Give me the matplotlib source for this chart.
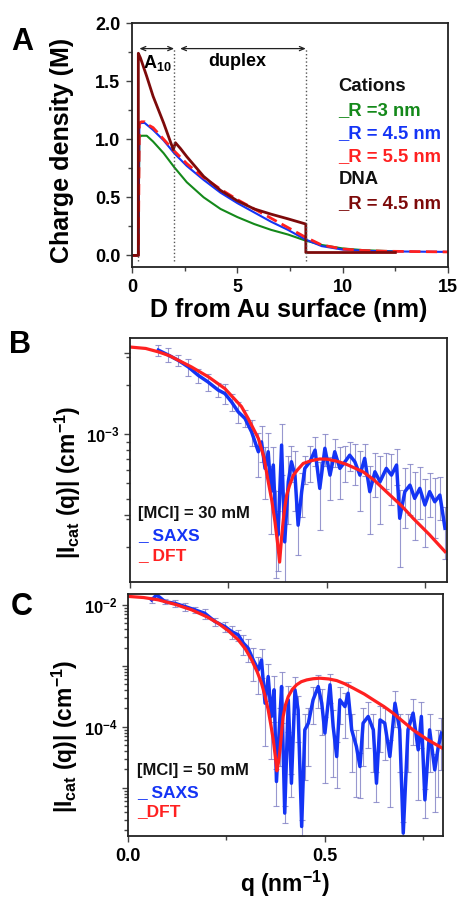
import matplotlib
matplotlib.use("Agg")
import matplotlib.pyplot as plt
import numpy as np
from matplotlib.ticker import LogLocator, NullFormatter

plt.rcParams['font.family'] = ['Liberation Sans', 'DejaVu Sans']
plt.rcParams['font.weight'] = 'bold'
plt.rcParams['mathtext.fontset'] = 'custom'
plt.rcParams['mathtext.rm'] = 'Liberation Sans:bold'
plt.rcParams['mathtext.bf'] = 'Liberation Sans:bold'
plt.rcParams['mathtext.it'] = 'Liberation Sans:bold'
plt.rcParams['mathtext.default'] = 'bf'

# ---- panel A: charge density profiles ----
d_green = [0, 0.3, 0.35, 0.45, 0.7, 1.0, 1.5, 2.0, 2.6, 3.4, 4.2, 5.0, 5.8, 6.6, 7.4, 8.2, 9.0, 10, 11, 12.5]
rho_green = [0, 0, 1.02, 1.03, 1.03, 0.98, 0.88, 0.76, 0.63, 0.50, 0.40, 0.33, 0.27, 0.22, 0.18, 0.13, 0.09, 0.06, 0.045, 0.035]

d_blue = [0, 0.3, 0.35, 0.45, 0.6, 0.8, 1.0, 1.5, 2.0, 2.6, 3.4, 4.2, 5.0, 5.8, 6.6, 7.4, 8.2, 9.0, 10, 11, 12, 15]
rho_blue = [0, 0, 1.13, 1.14, 1.14, 1.11, 1.08, 0.99, 0.88, 0.77, 0.65, 0.54, 0.45, 0.37, 0.29, 0.22, 0.14, 0.08, 0.05, 0.04, 0.035, 0.03]

d_red = [0, 0.3, 0.35, 0.45, 0.6, 0.8, 1.0, 1.5, 2.0, 2.6, 3.4, 4.2, 5.0, 5.8, 6.6, 7.4, 8.2, 9.0, 10, 11, 12, 15]
rho_red = [0, 0, 1.14, 1.15, 1.15, 1.12, 1.10, 1.00, 0.90, 0.79, 0.67, 0.57, 0.48, 0.40, 0.32, 0.24, 0.16, 0.09, 0.055, 0.042, 0.036, 0.03]

d_dna = [0, 0.3, 0.3, 0.4, 0.7, 1.0, 1.5, 1.96, 2.06, 2.3, 2.6, 3.4, 4.2, 5.0, 5.8, 6.6, 7.4, 8.25, 8.25, 12.5]
rho_dna = [0, 0, 1.74, 1.70, 1.54, 1.37, 1.14, 0.91, 0.97, 0.92, 0.85, 0.68, 0.56, 0.47, 0.40, 0.355, 0.315, 0.27, 0.025, 0.025]

region_edges = [0.3, 2.0, 8.25]

# ---- panel B: [MCl] = 30 mM ----
q_dft_b = [0.0, 0.04, 0.072, 0.1, 0.156, 0.2, 0.241, 0.283, 0.3, 0.326, 0.34, 0.351, 0.36, 0.368, 0.375, 0.38,
           0.385, 0.389, 0.393, 0.398, 0.405, 0.415, 0.425, 0.44, 0.46, 0.482, 0.5, 0.525, 0.55, 0.592, 0.62,
           0.651, 0.69, 0.719, 0.76, 0.80]
i_dft_b = [3.45e-3, 3.38e-3, 3.22e-3, 3.05e-3, 2.60e-3, 2.25e-3, 1.91e-3, 1.48e-3, 1.25e-3, 9.4e-4, 7.2e-4,
           5.1e-4, 3.9e-4, 2.9e-4, 2.1e-4, 1.62e-4, 2.3e-4, 2.9e-4, 3.5e-4, 4.2e-4, 4.8e-4, 5.58e-4, 6.0e-4,
           6.59e-4, 6.85e-4, 7.02e-4, 7.0e-4, 6.81e-4, 6.5e-4, 5.85e-4, 5.2e-4, 4.41e-4, 3.6e-4, 3.02e-4,
           2.4e-4, 1.88e-4]

q_saxs_b = [0.072, 0.097, 0.122, 0.148, 0.173, 0.198, 0.224, 0.241, 0.258, 0.275, 0.292, 0.309, 0.326, 0.334,
            0.343, 0.351, 0.358, 0.364, 0.370, 0.376, 0.385, 0.393, 0.402, 0.410, 0.419, 0.427, 0.436, 0.444,
            0.457, 0.470, 0.482, 0.495, 0.508, 0.520, 0.533, 0.546, 0.558, 0.571, 0.584, 0.596, 0.609, 0.622,
            0.635, 0.651, 0.664, 0.677, 0.685, 0.698, 0.711, 0.723, 0.736, 0.749, 0.761, 0.774, 0.787, 0.800]
i_saxs_b = [3.30e-3, 3.08e-3, 2.86e-3, 2.60e-3, 2.31e-3, 2.10e-3, 1.87e-3, 1.78e-3, 1.58e-3, 1.37e-3, 1.25e-3,
            1.03e-3, 7.78e-4, 8.95e-4, 6.14e-4, 7.78e-4, 4.41e-4, 6.44e-4, 2.88e-4, 2.38e-4, 8.55e-4, 2.16e-4,
            5.08e-4, 6.75e-4, 5.58e-4, 2.74e-4, 4.41e-4, 6.14e-4, 6.75e-4, 7.96e-4, 4.62e-4, 8.17e-4, 5.58e-4,
            7.78e-4, 6.14e-4, 6.75e-4, 7.41e-4, 6.75e-4, 5.58e-4, 7.08e-4, 4.41e-4, 5.85e-4, 5.08e-4, 6.14e-4,
            5.58e-4, 6.44e-4, 3.02e-4, 4.41e-4, 4.84e-4, 4.01e-4, 4.62e-4, 3.65e-4, 4.41e-4, 3.82e-4, 4.20e-4,
            2.62e-4]
# relative errors of the SAXS points
err_saxs_b = [0.08, 0.10, 0.08, 0.12, 0.10, 0.12, 0.10, 0.14, 0.12, 0.15, 0.12, 0.18, 0.30, 0.25, 0.35, 0.30,
              0.45, 0.30, 0.55, 0.40, 0.35, 0.60, 0.45, 0.25, 0.40, 0.35, 0.30, 0.20, 0.25, 0.20, 0.45, 0.22,
              0.30, 0.20, 0.35, 0.25, 0.20, 0.28, 0.40, 0.22, 0.45, 0.30, 0.45, 0.25, 0.35, 0.25, 0.50, 0.40,
              0.35, 0.45, 0.35, 0.45, 0.30, 0.40, 0.30, 0.35]

# ---- panel C: [MCl] = 50 mM ----
q_dft_c = [0.0, 0.04, 0.077, 0.12, 0.162, 0.2, 0.229, 0.255, 0.280, 0.298, 0.314, 0.328, 0.339, 0.348, 0.356,
           0.363, 0.369, 0.374, 0.378, 0.382, 0.386, 0.390, 0.394, 0.400, 0.407, 0.417, 0.428, 0.44, 0.454,
           0.47, 0.487, 0.51, 0.530, 0.55, 0.572, 0.60, 0.623, 0.65, 0.673, 0.70, 0.724, 0.76, 0.80]
i_dft_c = [1.38e-2, 1.32e-2, 1.21e-2, 1.02e-2, 8.28e-3, 6.4e-3, 5.0e-3, 3.75e-3, 2.67e-3, 1.9e-3, 1.25e-3,
           8.0e-4, 5.2e-4, 3.2e-4, 1.9e-4, 1.05e-4, 6.1e-5, 3.3e-5, 1.9e-5, 2.6e-5, 4.2e-5, 8.2e-5, 1.48e-4,
           2.3e-4, 3.14e-4, 4.1e-4, 4.89e-4, 5.5e-4, 5.89e-4, 6.15e-4, 6.28e-4, 6.1e-4, 5.74e-4, 5.1e-4,
           4.31e-4, 3.45e-4, 2.77e-4, 2.15e-4, 1.68e-4, 1.2e-4, 8.9e-5, 6.2e-5, 4.4e-5]

q_saxs_c = [0.060, 0.073, 0.094, 0.119, 0.145, 0.170, 0.195, 0.221, 0.246, 0.263, 0.280, 0.293, 0.305, 0.318,
            0.331, 0.339, 0.348, 0.356, 0.364, 0.371, 0.377, 0.385, 0.390, 0.398, 0.407, 0.415, 0.424, 0.432,
            0.441, 0.449, 0.458, 0.470, 0.483, 0.492, 0.500, 0.513, 0.521, 0.530, 0.538, 0.551, 0.559, 0.568,
            0.580, 0.589, 0.597, 0.610, 0.623, 0.631, 0.640, 0.652, 0.665, 0.678, 0.690, 0.699, 0.711, 0.724,
            0.737, 0.745, 0.754, 0.766, 0.779, 0.788, 0.796]
i_saxs_c = [1.21e-2, 1.46e-2, 1.13e-2, 1.06e-2, 9.40e-3, 8.28e-3, 7.29e-3, 5.33e-3, 4.42e-3, 3.66e-3, 3.22e-3,
            2.36e-3, 1.95e-3, 1.25e-3, 8.59e-4, 1.25e-3, 2.44e-4, 6.68e-4, 1.48e-4, 4.05e-4, 1.27e-5, 1.15e-4,
            4.58e-4, 3.85e-6, 2.77e-4, 1.19e-5, 4.05e-4, 1.90e-4, 2.32e-6, 8.93e-5, 1.15e-4, 2.77e-4, 4.58e-4,
            2.44e-4, 7.89e-5, 4.89e-4, 1.01e-4, 3.26e-5, 2.77e-4, 2.15e-4, 3.56e-4, 8.93e-5, 4.75e-5, 2.23e-5,
            1.15e-4, 1.48e-4, 8.93e-5, 1.19e-5, 1.30e-4, 1.15e-4, 3.26e-5, 2.44e-4, 8.93e-5, 1.81e-6, 8.93e-5,
            1.68e-4, 4.20e-5, 1.48e-4, 6.35e-6, 8.93e-5, 1.97e-5, 4.75e-5, 7.89e-5]
err_saxs_c = [0.10, 0.12, 0.10, 0.12, 0.15, 0.12, 0.18, 0.15, 0.20, 0.25, 0.22, 0.35, 0.40, 0.55, 0.60, 0.50,
              0.80, 0.60, 0.80, 0.70, 0.60, 0.80, 0.75, 0.30, 0.70, 0.40, 0.60, 0.70, 0.30, 0.85, 0.80, 0.60,
              0.55, 0.70, 0.85, 0.50, 0.85, 0.70, 0.60, 0.70, 0.55, 0.80, 0.85, 0.70, 0.80, 0.70, 0.80, 0.50,
              0.70, 0.75, 0.85, 0.60, 0.80, 0.50, 0.80, 0.70, 0.85, 0.70, 0.50, 0.80, 0.80, 0.85, 0.75]

c_green = '#14891a'
c_blue = '#1434f5'
c_red = '#ff2020'
c_brown = '#7d0a0a'
c_err = '#7f7fc4'

fig = plt.figure(figsize=(4.59, 9.0), dpi=100)
axA = fig.add_axes([0.2876, 0.7033, 0.6885, 0.2711])
axB = fig.add_axes([0.2832, 0.3533, 0.6906, 0.2711])
axC = fig.add_axes([0.2789, 0.0711, 0.6863, 0.2689])

for ax in (axA, axB, axC):
    for sp in ax.spines.values():
        sp.set_linewidth(1.3)
        sp.set_color('#222222')
    ax.tick_params(which='both', direction='out', width=1.0, color='#444444',
                   labelsize=13, pad=4, top=False, right=False)
    ax.tick_params(which='major', length=4.5)
    ax.tick_params(which='minor', length=3)
for ax in (axB, axC):
    ax.tick_params(axis='y', which='both', labelsize=12, pad=3)

# --- A ---
axA.plot(d_green, rho_green, color=c_green, lw=1.5)
axA.plot(d_blue, rho_blue, color=c_blue, lw=1.5)
axA.plot(d_red, rho_red, color=c_red, lw=2.0, dashes=(4, 2))
axA.plot(d_dna, rho_dna, color=c_brown, lw=2.0)
for xe in region_edges[1:]:
    axA.plot([xe, xe], [-0.05, 1.78], color='#555555', lw=1.0, ls=':')
axA.plot([region_edges[0]] * 2, [-0.05, 0.0], color='#555555', lw=1.0, ls=':')
arrow = dict(arrowstyle='<->,head_length=0.35,head_width=0.15', color='#222222', lw=0.9, shrinkA=0, shrinkB=0)
axA.annotate('', xy=(0.35, 1.78), xytext=(2.0, 1.78), arrowprops=arrow)
axA.annotate('', xy=(2.28, 1.78), xytext=(8.25, 1.78), arrowprops=arrow)
axA.text(1.2, 1.66, r'A$_{10}$', fontsize=13, ha='center', va='center')
axA.text(5.0, 1.67, 'duplex', fontsize=13, ha='center', va='center')

legA = [('Cations', '#111111', 1.45), ('_R =3 nm', c_green, 1.25), ('_R = 4.5 nm', c_blue, 1.05),
        ('_R = 5.5 nm', c_red, 0.85), ('DNA', '#111111', 0.65), ('_R = 4.5 nm', c_brown, 0.45)]
for txt, col, yy in legA:
    axA.text(9.8, yy, txt, color=col, fontsize=13.3, ha='left', va='center')

axA.set_xlim(0, 15)
axA.set_ylim(-0.1, 2.0)
axA.set_xticks([0, 5, 10, 15])
axA.set_xticks([2.5, 7.5, 12.5], minor=True)
axA.set_yticks([0, 0.5, 1.0, 1.5, 2.0])
axA.set_yticklabels(['0.0', '0.5', '1.0', '1.5', '2.0'])
axA.set_yticks([0.25, 0.75, 1.25, 1.75], minor=True)

# --- B ---
axB.errorbar(q_saxs_b, i_saxs_b, yerr=np.array(err_saxs_b) * np.array(i_saxs_b), fmt='none',
             ecolor=c_err, elinewidth=0.8, capsize=2.5, capthick=0.8, alpha=0.8)
axB.plot(q_saxs_b, i_saxs_b, color=c_blue, lw=2.5)
axB.plot(q_dft_b, i_dft_b, color=c_red, lw=2.3)
axB.set_yscale('log')
axB.set_xlim(0, 0.805)
axB.set_ylim(1.22e-4, 3.92e-3)
axB.set_xticks([0, 0.25, 0.5, 0.75])
axB.set_xticklabels([])
axB.set_yticks([10 ** -3.5, 1e-3, 10 ** -2.5])
axB.set_yticklabels(['', r'10$^{-3}$', ''])
axB.yaxis.set_minor_locator(LogLocator(base=10, subs=np.arange(2, 10)))
axB.yaxis.set_minor_formatter(NullFormatter())
axB.text(0.025, 0.28, '[MCl] = 30 mM', transform=axB.transAxes, fontsize=12, color='#111111', va='center')
axB.text(0.025, 0.19, '_ SAXS', transform=axB.transAxes, fontsize=12.5, color=c_blue, va='center')
axB.text(0.025, 0.11, '_ DFT', transform=axB.transAxes, fontsize=12.5, color=c_red, va='center')

# --- C ---
axC.errorbar(q_saxs_c, i_saxs_c, yerr=np.array(err_saxs_c) * np.array(i_saxs_c), fmt='none',
             ecolor=c_err, elinewidth=0.8, capsize=2.5, capthick=0.8, alpha=0.8)
axC.plot(q_saxs_c, i_saxs_c, color=c_blue, lw=2.5)
axC.plot(q_dft_c, i_dft_c, color=c_red, lw=2.3)
axC.set_yscale('log')
axC.set_xlim(0, 0.8)
axC.set_ylim(1.62e-6, 1.51e-2)
axC.set_xticks([0, 0.5])
axC.set_xticklabels(['0.0', '0.5'])
axC.set_xticks([0.25, 0.75], minor=True)
axC.set_yticks([1e-5, 1e-4, 1e-3, 1e-2])
axC.set_yticklabels(['', r'10$^{-4}$', '', r'10$^{-2}$'])
axC.yaxis.set_minor_locator(LogLocator(base=10, subs=np.arange(2, 10)))
axC.yaxis.set_minor_formatter(NullFormatter())
axC.text(0.028, 0.27, '[MCl] = 50 mM', transform=axC.transAxes, fontsize=12, color='#111111', va='center')
axC.text(0.028, 0.18, '_ SAXS', transform=axC.transAxes, fontsize=12.5, color=c_blue, va='center')
axC.text(0.028, 0.10, '_DFT', transform=axC.transAxes, fontsize=12.5, color=c_red, va='center')

# axis labels and panel letters
fig.text(0.136, 0.833, 'Charge density (M)', rotation=90, fontsize=18, ha='center', va='center')
fig.text(0.63, 0.655, 'D from Au surface (nm)', fontsize=18, ha='center', va='center')
fig.text(0.148, 0.464, r'|I$_{cat}$ (q)| (cm$^{-1}$)', rotation=90, fontsize=16.5, ha='center', va='center')
fig.text(0.142, 0.182, r'|I$_{cat}$ (q)| (cm$^{-1}$)', rotation=90, fontsize=16.5, ha='center', va='center')
fig.text(0.621, 0.018, r'q (nm$^{-1}$)', fontsize=16.5, ha='center', va='center')
fig.text(0.048, 0.953, 'A', fontsize=22, ha='center', va='center')
fig.text(0.044, 0.617, 'B', fontsize=22, ha='center', va='center')
fig.text(0.048, 0.326, 'C', fontsize=22, ha='center', va='center')

fig.savefig('out.png', dpi=100)
